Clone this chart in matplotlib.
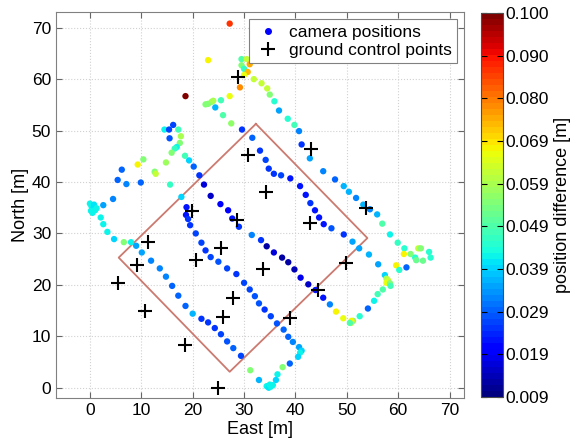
import numpy as np
import matplotlib
matplotlib.use("Agg")
from matplotlib import pyplot as plt
from matplotlib.lines import Line2D

plt.rcParams['font.family'] = ['Liberation Sans', 'DejaVu Sans']
plt.rcParams['font.size'] = 12.5

# camera positions: east [m], north [m], position difference [m]
cam_east = [
    27.2, 23.0, 29.5, 30.5, 29.5, 30.0, 31.1, 30.7, 30.0, 29.2, 27.2, 18.6, 31.9,
    22.5, 23.0, 23.7, 24.0, 25.5, 24.4, 25.9, 27.5, 29.6, 31.6,
    16.2, 14.5, 15.4, 17.2, 15.5, 17.7, 17.5, 16.9, 16.5, 15.9,
    18.5, 19.3, 20.2, 21.3, 22.2, 23.5,
    9.3, 10.4, 6.2, 5.4, 7.1, 9.9, 12.6, 12.8, 14.8, 15.6, 4.5, 2.6,
    0.0, 0.3, 0.6, 1.0, 0.2, 0.8, 1.3, 0.5, 17.8,
    33.4, 34.5, 35.0, 35.9, 36.8, 38.5, 39.8, 40.7, 41.2, 42.8, 45.4, 47.7, 49.4, 50.4, 51.8,
    33.1, 34.2, 34.8, 35.8, 37.2, 39.0, 40.9, 42.0,
    2.1, 2.6, 3.4, 4.7, 6.6, 8.0, 9.0, 10.1, 11.9, 13.6, 14.8, 16.0, 17.2, 18.6,
    20.0, 21.7, 23.0, 24.3, 25.5, 26.7, 27.9, 29.4, 31.2, 32.9,
    34.4, 34.8, 35.2, 35.6, 35.0,
    18.8, 18.7, 19.1, 19.5, 20.6, 21.7, 22.5, 23.5, 25.0, 26.7, 28.5, 30.0, 31.1, 32.1, 32.9,
    25.4, 26.9, 27.7, 29.0, 31.5,
    42.9, 43.8, 44.6, 45.5, 47.0, 49.4, 51.1, 52.4, 54.3, 56.1, 57.4, 57.7, 58.0, 57.7,
    58.4, 58.5, 57.0, 56.0, 55.3, 54.1, 52.5, 51.2, 50.8, 50.9, 50.6, 49.3, 47.9,
    46.7, 45.4, 43.9, 42.5, 41.0, 39.8, 38.6, 37.4, 35.8, 34.4, 33.3,
    34.0, 35.2, 36.4, 37.7, 38.6, 39.5, 40.7, 41.2, 40.9, 40.5, 38.9, 37.5, 36.5, 36.2,
    53.2, 54.5, 55.9, 56.9, 58.4, 59.9, 61.2, 61.1, 62.4, 63.3, 63.5, 63.9, 64.4,
    64.8, 66.0, 66.3, 59.6, 60.2, 61.6,
]
cam_north = [
    70.8, 63.7, 63.9, 63.9, 62.7, 62.0, 62.9, 61.4, 60.8, 58.4, 56.7, 56.7, 60.0,
    55.1, 55.2, 55.6, 55.8, 55.9, 54.5, 53.0, 51.4, 50.2, 48.6,
    51.1, 50.2, 50.2, 50.2, 48.5, 48.9, 47.6, 46.8, 46.5, 45.7,
    45.1, 44.2, 43.0, 41.3, 39.5, 37.3,
    43.4, 44.4, 42.4, 40.4, 39.6, 39.9, 42.0, 41.6, 43.8, 39.5, 36.7, 35.5,
    35.8, 35.3, 34.8, 34.5, 34.4, 35.6, 34.9, 34.0, 37.1,
    59.2, 58.2, 57.0, 55.7, 53.9, 52.3, 51.1, 49.9, 47.3, 44.6, 42.1, 40.5, 39.2, 38.1, 36.9,
    46.1, 44.3, 42.6, 41.6, 41.3, 40.7, 39.2, 37.5,
    33.1, 31.8, 30.3, 28.9, 28.3, 28.3, 27.6, 26.3, 24.7, 23.2, 21.6, 19.8, 17.9, 15.9,
    14.4, 13.4, 12.7, 11.6, 10.4, 9.0, 7.7, 6.2, 3.4, 1.5,
    0.3, 0.0, 0.2, 0.5, 0.6,
    35.1, 33.6, 32.8, 31.6, 30.0, 28.2, 26.7, 25.4, 24.5, 23.2, 22.1, 20.4, 19.1, 17.8, 16.4,
    35.7, 34.5, 32.9, 31.3, 29.7,
    35.9, 34.5, 33.1, 31.8, 31.0, 29.8, 28.4, 27.1, 25.9, 24.0, 21.9, 21.2, 20.9, 20.4,
    20.3, 19.8, 19.1, 18.2, 16.9, 15.4, 13.9, 13.0, 12.6, 13.0, 12.6, 13.5, 14.8,
    16.2, 17.5, 19.0, 20.1, 21.4, 23.0, 24.4, 25.3, 26.3, 27.5, 28.7,
    15.2, 13.9, 12.5, 11.3, 9.9, 8.9, 7.9, 7.2, 6.8, 6.0, 4.7, 4.0, 2.6, 1.5,
    35.6, 34.7, 33.7, 31.9, 29.8, 28.2, 27.1, 26.0, 26.0, 25.3, 24.8, 27.1, 27.1,
    24.7, 26.4, 25.3, 23.8, 22.9, 23.4,
]
pos_diff = [
    0.086, 0.068, 0.050, 0.062, 0.055, 0.047, 0.075, 0.074, 0.067, 0.078, 0.067, 0.100, 0.062,
    0.055, 0.055, 0.057, 0.060, 0.048, 0.037, 0.050, 0.057, 0.025, 0.030,
    0.027, 0.042, 0.027, 0.048, 0.028, 0.060, 0.055, 0.042, 0.047, 0.055,
    0.048, 0.040, 0.030, 0.025, 0.017, 0.016,
    0.068, 0.055, 0.030, 0.030, 0.033, 0.030, 0.055, 0.062, 0.058, 0.047, 0.032, 0.035,
    0.042, 0.042, 0.041, 0.043, 0.042, 0.041, 0.042, 0.043, 0.040,
    0.062, 0.063, 0.055, 0.045, 0.035, 0.045, 0.048, 0.032, 0.025, 0.035, 0.033, 0.030, 0.037, 0.037, 0.033,
    0.025, 0.027, 0.025, 0.025, 0.027, 0.022, 0.022, 0.022,
    0.042, 0.043, 0.042, 0.040, 0.055, 0.043, 0.036, 0.035, 0.033, 0.032, 0.032, 0.030, 0.030, 0.030,
    0.037, 0.025, 0.025, 0.025, 0.027, 0.028, 0.030, 0.027, 0.055, 0.037,
    0.042, 0.041, 0.042, 0.043, 0.042,
    0.022, 0.022, 0.025, 0.025, 0.027, 0.027, 0.025, 0.027, 0.028, 0.027, 0.025, 0.027, 0.027, 0.028, 0.028,
    0.020, 0.020, 0.022, 0.025, 0.033,
    0.025, 0.022, 0.022, 0.022, 0.028, 0.025, 0.035, 0.035, 0.037, 0.035, 0.040, 0.060, 0.062, 0.067,
    0.055, 0.048, 0.050, 0.048, 0.042, 0.030, 0.045, 0.055, 0.062, 0.068, 0.050, 0.067, 0.068,
    0.033, 0.022, 0.022, 0.015, 0.018, 0.014, 0.012, 0.013, 0.017, 0.012, 0.025,
    0.025, 0.027, 0.028, 0.030, 0.030, 0.033, 0.035, 0.040, 0.042, 0.040, 0.030, 0.055, 0.042, 0.040,
    0.037, 0.032, 0.037, 0.050, 0.043, 0.047, 0.045, 0.068, 0.055, 0.045, 0.052, 0.062, 0.055,
    0.052, 0.045, 0.045, 0.068, 0.045, 0.030,
]

# ground control points
gcp_east = [28.9, 30.8, 43.0, 34.2, 19.8, 28.7, 11.3, 9.1, 5.5, 10.7, 25.5,
            20.6, 33.7, 27.8, 25.9, 18.5, 24.9, 53.8, 42.9, 49.8, 44.4, 38.9]
gcp_north = [60.5, 45.2, 46.5, 38.1, 34.3, 32.6, 28.4, 23.8, 20.3, 14.9, 27.2,
             24.8, 23.1, 17.5, 13.8, 8.4, 0.0, 35.0, 32.1, 24.3, 19.0, 13.6]

# area of interest (closed polygon)
area_east = [32.3, 54.0, 27.2, 5.6, 32.3]
area_north = [51.3, 29.1, 3.1, 25.3, 51.3]

cbar_labels = ['0.009', '0.019', '0.029', '0.039', '0.049',
               '0.059', '0.069', '0.080', '0.090', '0.100']
vmin, vmax = 0.009, 0.100

fig = plt.figure(figsize=(5.71, 4.43), dpi=100)
ax = fig.add_axes([56 / 571, 45 / 443, 408 / 571, 385.7 / 443])
cmap = plt.get_cmap('jet', 64)

ax.plot(area_east, area_north, color=(0.8, 0.48, 0.44), lw=1.3, zorder=2)
sc = ax.scatter(cam_east, cam_north, c=pos_diff, cmap=cmap, vmin=vmin, vmax=vmax,
                s=21, edgecolors='none', zorder=3)
ax.plot(gcp_east, gcp_north, 'k+', ms=10, mew=1.5, zorder=4)

ax.set_xlim(-6.6, 72.8)
ax.set_ylim(-2.0, 73.0)
ax.set_xticks(range(0, 71, 10))
ax.set_yticks(range(0, 71, 10))
ax.grid(True, color=(0.82, 0.82, 0.82), linestyle=':', lw=0.8)
ax.set_axisbelow(True)
ax.tick_params(direction='in', top=True, right=True, length=4, color='0.4')
for sp in ax.spines.values():
    sp.set_color('0.5')
ax.set_xlabel('East [m]', fontsize=13, labelpad=2)
ax.set_ylabel('North [m]', fontsize=13, labelpad=2)

handles = [Line2D([], [], ls='none', marker='.', color='b', ms=8),
           Line2D([], [], ls='none', marker='+', color='k', ms=10, mew=1.5)]
leg = ax.legend(handles, ['camera positions', 'ground control points'],
                loc='upper right', fancybox=False, framealpha=1, edgecolor='0.5',
                borderpad=0.3, handletextpad=0.4, labelspacing=0.2,
                handlelength=1.6, borderaxespad=0.4)
leg.get_frame().set_linewidth(0.8)

cax = fig.add_axes([481 / 571, 46 / 443, 21.5 / 571, 384 / 443])
cb = fig.colorbar(sc, cax=cax)
cb.set_ticks(np.linspace(vmin, vmax, 10))
cb.set_ticklabels(cbar_labels)
cb.outline.set_edgecolor('0.3')
cax.tick_params(direction='in', left=True, right=True, length=4, pad=2)
cb.set_label('position difference [m]', fontsize=13, labelpad=4)

fig.savefig('out.png', dpi=100)
